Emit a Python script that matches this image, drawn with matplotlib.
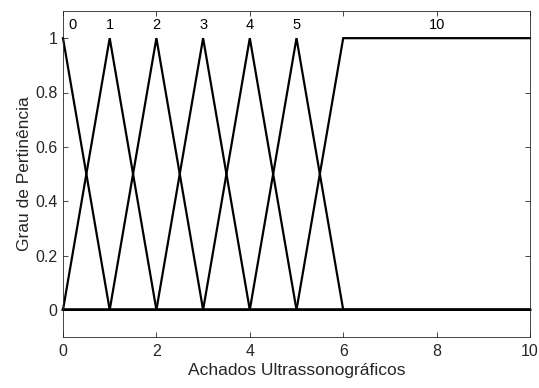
import numpy as np
import matplotlib
matplotlib.use("Agg")
import matplotlib.pyplot as plt

plt.rcParams['font.family'] = ['Liberation Sans', 'DejaVu Sans']

# Membership functions of the "Achados Ultrassonográficos" input
mf_names = ["0", "1", "2", "3", "4", "5", "10"]
mf_types = ["trimf", "trimf", "trimf", "trimf", "trimf", "trimf", "trapmf"]
mf_params = [
    [-1, 0, 1],
    [0, 1, 2],
    [1, 2, 3],
    [2, 3, 4],
    [3, 4, 5],
    [4, 5, 6],
    [5, 6, 10, 11],
]
label_x = [0.2, 1, 2, 3, 4, 5, 8]
x_range = [0, 10]

xlabel = "Achados Ultrassonográficos"
ylabel = "Grau de Pertinência"
xticks = [0, 2, 4, 6, 8, 10]
yticks = [0, 0.2, 0.4, 0.6, 0.8, 1]
ytick_labels = ["0", "0.2", "0.4", "0.6", "0.8", "1"]


def mf_curve(kind, p, lo, hi):
    if kind == "trimf":
        xp = [p[0], p[1], p[2]]
        fp = [0, 1, 0]
    else:
        xp = [p[0], p[1], p[2], p[3]]
        fp = [0, 1, 1, 0]
    xs = sorted(set([lo, hi] + [v for v in xp if lo <= v <= hi]))
    ys = np.interp(xs, xp, fp, left=0, right=0)
    return xs, ys


fig = plt.figure(figsize=(5.39, 3.88), dpi=100)
ax = fig.add_axes([63 / 539, 1 - 337 / 388, (530 - 63) / 539, (337 - 11) / 388])

for kind, p in zip(mf_types, mf_params):
    xs, ys = mf_curve(kind, p, x_range[0], x_range[1])
    ax.plot(xs, ys, color="black", lw=1.6, solid_joinstyle="miter", clip_on=False)

for name, lx in zip(mf_names, label_x):
    ax.text(lx, 1.05, name, ha="center", va="center", fontsize=10.5, color="black")

ax.set_xlim(x_range)
ax.set_ylim(-0.1, 1.1)
ax.set_xticks(xticks)
ax.set_yticks(yticks)
ax.set_yticklabels(ytick_labels)
ax.tick_params(direction="in", top=True, right=True, labelsize=11.5,
               colors="#262626", length=3.5, width=0.6)
ax.tick_params(axis="x", pad=5)
ax.tick_params(axis="y", pad=4)
for s in ax.spines.values():
    s.set_color("#262626")
    s.set_linewidth(0.6)
ax.set_xlabel(xlabel, fontsize=12.5, color="#262626", labelpad=3)
ax.set_ylabel(ylabel, fontsize=12.5, color="#262626", labelpad=2)

fig.savefig("out.png", dpi=100)
